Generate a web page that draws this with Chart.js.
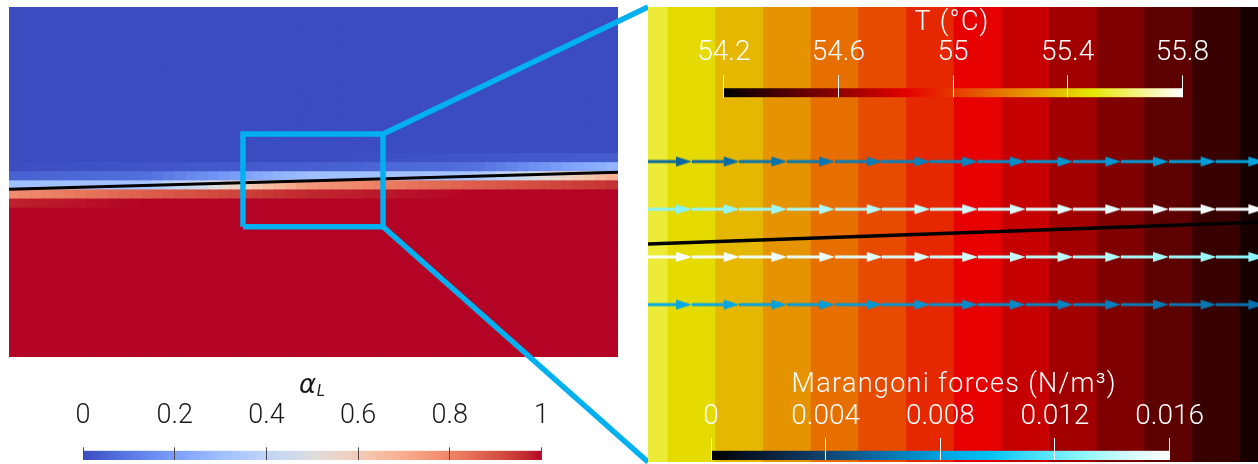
<!DOCTYPE html>
<html>
<head>
<meta charset="utf-8">
<script src="https://cdn.jsdelivr.net/npm/chart.js@4.4.1/dist/chart.umd.min.js"></script>
<style>
  html, body { margin: 0; padding: 0; background: #fff; overflow: hidden; }
  #fig { position: relative; width: 1258px; height: 464px; }
  #fig canvas { position: absolute; }
</style>
</head>
<body>
<div id="fig">
  <canvas id="alphaField" width="609" height="350" style="left:9px;top:7px"></canvas>
  <canvas id="links" width="1258" height="464" style="left:0px;top:0px"></canvas>
  <canvas id="zoomField" width="610" height="455" style="left:648px;top:7px"></canvas>
  <canvas id="tempBar" width="610" height="110" style="left:648px;top:0px"></canvas>
  <canvas id="forceBar" width="610" height="104" style="left:648px;top:360px"></canvas>
  <canvas id="alphaBar" width="630" height="104" style="left:0px;top:360px"></canvas>
</div>
<script>
// ---------------- data ----------------
// Liquid fraction field (coarse view): cell grid, interface and zoom window
const alphaColumns = 55;                 // cells across the view
const alphaRowRange = [-19, 21];         // row indices covering the view
const interfaceX = [0, 55];              // interface end points (cell units)
const interfaceY = [0.08, 1.94];
// liquid fraction across the interface, by signed distance (rows) below it
const alphaProfileOffset = [-2.5, -2, -1.5, -1, -0.5, 0, 0.5, 1, 1.5, 2];
const alphaProfileValue  = [0, 0.02, 0.04, 0.08, 0.30, 0.32, 0.76, 0.88, 0.97, 1];
const zoomBoxX = [21.13, 33.78];
const zoomBoxY = [-4.04, 6.14];

// Zoomed window: temperature per cell column, interface, Marangoni forces
const tempColumnStart = -1;
const temperature = [55.55, 55.45, 55.35, 55.25, 55.15, 55.05, 54.95, 54.84, 54.75, 54.65, 54.55, 54.46, 54.36, 54.27];
const zoomInterfaceX = [-1, 13];
const zoomInterfaceY = [-0.25, 0.25];
const arrowRows = [1.5, 0.5, -0.5, -1.5];
const forceRow1 = [0.0056, 0.0058, 0.0061, 0.0063, 0.0065, 0.0067, 0.0069, 0.0072, 0.0074, 0.0076, 0.0078, 0.0079, 0.0081];
const forceRow2 = [0.0127, 0.0130, 0.0133, 0.0136, 0.0139, 0.0142, 0.0145, 0.0147, 0.0150, 0.0152, 0.0154, 0.0156, 0.0158];
const forceRow3 = [0.0159, 0.0157, 0.0155, 0.0153, 0.0151, 0.0149, 0.0146, 0.0143, 0.0141, 0.0138, 0.0135, 0.0132, 0.0129];
const forceRow4 = [0.0084, 0.0082, 0.0080, 0.0078, 0.0076, 0.0074, 0.0072, 0.0070, 0.0068, 0.0066, 0.0064, 0.0062, 0.0060];

// Colour bar ticks
const alphaTicks = [0, 0.2, 0.4, 0.6, 0.8, 1];
const alphaTickLabels = ['0', '0.2', '0.4', '0.6', '0.8', '1'];
const tempTicks = [54.2, 54.6, 55, 55.4, 55.8];
const tempTickLabels = ['54.2', '54.6', '55', '55.4', '55.8'];
const forceTicks = [0, 0.004, 0.008, 0.012, 0.016];
const forceTickLabels = ['0', '0.004', '0.008', '0.012', '0.016'];

// ---------------- colour maps ----------------
const coolWarm = [
  [59,76,192],[68,90,204],[77,104,215],[87,117,225],[98,130,234],[108,142,241],[119,154,247],[130,165,251],
  [141,176,254],[152,185,255],[163,194,255],[173,201,253],[184,208,249],[192,212,245],[201,216,239],[209,218,232],
  [221,221,221],[229,216,209],[236,211,197],[241,204,185],[245,196,173],[247,187,160],[247,177,148],[247,166,135],
  [244,154,123],[241,141,111],[236,127,99],[229,112,88],[222,96,77],[213,80,66],[203,62,56],[192,40,47],[180,4,38]
].map((c, i, a) => [i / (a.length - 1), c[0], c[1], c[2]]);
const blackBody = [[0, 0, 0, 0], [0.4, 230, 0, 0], [0.8, 230, 230, 0], [1, 255, 255, 255]];
const blueWhite = [[0, 0, 0, 0], [0.1, 8, 24, 48], [0.25, 16, 68, 112], [0.37, 10, 110, 168], [0.5, 0, 162, 222],
  [0.6, 0, 192, 245], [0.72, 80, 228, 255], [0.82, 150, 248, 250], [0.92, 215, 252, 252], [1, 255, 255, 255]];

function mapColor(stops, t) {
  t = Math.max(0, Math.min(1, t));
  for (let i = 1; i < stops.length; i++) {
    if (t <= stops[i][0] || i === stops.length - 1) {
      const a = stops[i - 1], b = stops[i];
      const f = (t - a[0]) / ((b[0] - a[0]) || 1);
      const ch = k => Math.round(a[k] + (b[k] - a[k]) * f);
      return `rgb(${ch(1)},${ch(2)},${ch(3)})`;
    }
  }
}
function interp(xs, ys, v) {
  if (v <= xs[0]) return ys[0];
  if (v >= xs[xs.length - 1]) return ys[ys.length - 1];
  for (let i = 1; i < xs.length; i++) {
    if (v <= xs[i]) return ys[i - 1] + (ys[i] - ys[i - 1]) * (v - xs[i - 1]) / (xs[i] - xs[i - 1]);
  }
}
function gradientFor(stops) {
  return (c) => {
    const area = c.chart.chartArea;
    if (!area) return 'transparent';
    const g = c.chart.ctx.createLinearGradient(area.left, 0, area.right, 0);
    stops.forEach(s => g.addColorStop(s[0], `rgb(${s[1]},${s[2]},${s[3]})`));
    return g;
  };
}

const FONT = "'Roboto', 'Open Sans', sans-serif";
Chart.defaults.font.family = FONT;
const staticOpts = { responsive: false, animation: false, events: [], plugins: { legend: { display: false }, tooltip: { enabled: false } } };

// ---------------- liquid fraction field ----------------
const colLabels = Array.from({ length: alphaColumns }, (_, c) => String(c));
const interfaceAt = x => interfaceY[0] + (interfaceY[1] - interfaceY[0]) * (x - interfaceX[0]) / (interfaceX[1] - interfaceX[0]);
const rowSets = [];
for (let j = alphaRowRange[0]; j < alphaRowRange[1]; j++) {
  rowSets.push({
    type: 'bar', xAxisID: 'x', yAxisID: 'y', order: 3, grouped: false,
    data: colLabels.map(() => [j, j + 1]),
    backgroundColor: colLabels.map((_, c) => {
      const d = interfaceAt(c + 0.5) - (j + 0.5);
      return mapColor(coolWarm, interp(alphaProfileOffset, alphaProfileValue, d));
    }),
    borderWidth: 0, barPercentage: 1, categoryPercentage: 1, inflateAmount: 0.5
  });
}
const fieldChart = new Chart(document.getElementById('alphaField'), {
  type: 'bar',
  data: {
    labels: colLabels,
    datasets: [
      ...rowSets,
      { type: 'line', xAxisID: 'xl', yAxisID: 'y', order: 1,
        data: interfaceX.map((x, i) => ({ x, y: interfaceY[i] })),
        borderColor: '#000', borderWidth: 3, pointRadius: 0 },
      { type: 'line', xAxisID: 'xl', yAxisID: 'y', order: 0, clip: false,
        data: [
          { x: zoomBoxX[0], y: zoomBoxY[0] }, { x: zoomBoxX[0], y: zoomBoxY[1] },
          { x: zoomBoxX[1], y: zoomBoxY[1] }, { x: zoomBoxX[1], y: zoomBoxY[0] },
          { x: zoomBoxX[0], y: zoomBoxY[0] }
        ],
        borderColor: '#00B0F0', borderWidth: 5.5, borderJoinStyle: 'miter', pointRadius: 0 }
    ]
  },
  options: {
    ...staticOpts,
    layout: { padding: 0, autoPadding: false },
    scales: {
      x: { type: 'category', display: false, offset: true },
      xl: { type: 'linear', display: false, offset: false, min: interfaceX[0], max: interfaceX[1] },
      y: { type: 'linear', display: false, min: -18.35, max: 20.1 }
    }
  }
});

// ---------------- zoomed temperature field with force vectors ----------------
const arrowCache = {};
function arrowImage(color, len) {
  const key = color + '|' + len.toFixed(1);
  if (arrowCache[key]) return arrowCache[key];
  const w = Math.round(len), h = 12, cy = h / 2;
  const headL = 16, headH = 5, shaft = 1.6;
  const c = document.createElement('canvas');
  c.width = w; c.height = h;
  const g = c.getContext('2d');
  g.fillStyle = color;
  g.beginPath();
  g.moveTo(0, cy - shaft); g.lineTo(w - headL, cy - shaft); g.lineTo(w - headL, cy - headH);
  g.lineTo(w, cy); g.lineTo(w - headL, cy + headH); g.lineTo(w - headL, cy + shaft);
  g.lineTo(0, cy + shaft); g.closePath(); g.fill();
  arrowCache[key] = c;
  return c;
}
const forceMax = forceTicks[forceTicks.length - 1];
function arrowSet(values, row) {
  return {
    type: 'line', showLine: false, order: 0,
    data: values.map((f, i) => ({ x: i, y: row, f })),
    pointRadius: 10,
    pointStyle: (ctx) => {
      if (!ctx.raw) return 'circle';
      const xs = ctx.chart.scales.x;
      const len = Math.abs(xs.getPixelForValue(1) - xs.getPixelForValue(0));
      return arrowImage(mapColor(blueWhite, ctx.raw.f / forceMax), len);
    }
  };
}
const tMin = tempTicks[0], tMax = tempTicks[tempTicks.length - 1];
const zoomChart = new Chart(document.getElementById('zoomField'), {
  type: 'bar',
  data: {
    datasets: [
      { type: 'bar', order: 3,
        data: temperature.map((t, i) => ({ x: tempColumnStart + i + 0.5, y: [-10, 10] })),
        backgroundColor: temperature.map(t => mapColor(blackBody, (t - tMin) / (tMax - tMin))),
        borderWidth: 0, barPercentage: 1, categoryPercentage: 1, inflateAmount: 0.5 },
      { type: 'line', order: 1,
        data: zoomInterfaceX.map((x, i) => ({ x, y: zoomInterfaceY[i] })),
        borderColor: '#000', borderWidth: 3.5, pointRadius: 0 },
      arrowSet(forceRow1, arrowRows[0]),
      arrowSet(forceRow2, arrowRows[1]),
      arrowSet(forceRow3, arrowRows[2]),
      arrowSet(forceRow4, arrowRows[3])
    ]
  },
  options: {
    ...staticOpts,
    layout: { padding: 0, autoPadding: false },
    scales: {
      x: { type: 'linear', display: false, offset: false, min: -0.42, max: 12.37, ticks: { stepSize: 1, includeBounds: false } },
      y: { type: 'linear', display: false, min: -4.8, max: 4.74 }
    }
  }
});

// ---------------- colour bars ----------------
// Bar title drawn above the tick labels (allows letter spacing and subscripts)
const barTitle = {
  id: 'barTitle',
  afterDraw(chart, args, opts) {
    if (!opts || !opts.parts) return;
    const { ctx, chartArea } = chart;
    const cx = (chartArea.left + chartArea.right) / 2 + (opts.dx || 0);
    ctx.save();
    ctx.fillStyle = opts.color;
    ctx.textBaseline = 'alphabetic';
    if (opts.parts.length === 1) {
      const p = opts.parts[0];
      ctx.font = p.font;
      ctx.letterSpacing = (p.spacing || 0) + 'px';
      ctx.textAlign = 'center';
      ctx.fillText(p.text, cx, p.y);
    } else {
      const [a, b] = opts.parts;
      ctx.font = a.font; ctx.textAlign = 'right'; ctx.fillText(a.text, cx, a.y);
      ctx.font = b.font; ctx.textAlign = 'left'; ctx.fillText(b.text, cx + 0.5, b.y);
    }
    ctx.restore();
  }
};

function colorBar(id, cfg) {
  return new Chart(document.getElementById(id), {
    type: 'bar',
    data: {
      labels: [''],
      datasets: [{
        data: [[cfg.ticks[0], cfg.ticks[cfg.ticks.length - 1]]],
        backgroundColor: gradientFor(cfg.stops),
        borderWidth: 0, barPercentage: 1, categoryPercentage: 1
      }]
    },
    options: {
      ...staticOpts,
      indexAxis: 'y',
      layout: { padding: cfg.padding, autoPadding: false },
      plugins: { ...staticOpts.plugins, barTitle: cfg.title },
      scales: {
        y: { display: false },
        x: {
          type: 'linear', position: 'top',
          min: cfg.ticks[0], max: cfg.ticks[cfg.ticks.length - 1],
          afterBuildTicks: s => { s.ticks = cfg.ticks.map(v => ({ value: v })); },
          afterFit: s => { s.height = cfg.axisHeight; },
          border: { display: false },
          grid: { drawOnChartArea: true, drawTicks: true, tickLength: cfg.tickLength, color: cfg.tickColor, lineWidth: 1, z: 1 },
          ticks: {
            autoSkip: false, maxRotation: 0, padding: cfg.labelPad, color: cfg.textColor,
            font: { family: FONT, size: cfg.labelSize, weight: 300, lineHeight: 1 },
            callback: (v, i) => cfg.labels[i]
          }
        }
      }
    },
    plugins: [barTitle]
  });
}

colorBar('tempBar', {
  ticks: tempTicks, labels: tempTickLabels, stops: blackBody,
  padding: { left: 75.8, right: 75.7, top: 0, bottom: 12.7 },
  axisHeight: 88.3, tickLength: 13, tickColor: '#ffffff', textColor: '#ffffff',
  labelSize: 28, labelPad: 8,
  title: { color: '#ffffff', dx: -1, parts: [{ text: 'T (°C)', font: `300 27px ${FONT}`, spacing: 1.3, y: 30 }] }
});

colorBar('forceBar', {
  ticks: forceTicks, labels: forceTickLabels, stops: blueWhite,
  padding: { left: 63, right: 88.4, top: 0, bottom: 4 },
  axisHeight: 90.7, tickLength: 12.7, tickColor: '#ffffff', textColor: '#ffffff',
  labelSize: 28, labelPad: 7.3,
  title: { color: '#ffffff', dx: 14, parts: [{ text: 'Marangoni forces (N/m³)', font: `300 27px ${FONT}`, spacing: 1.3, y: 31.7 }] }
});

colorBar('alphaBar', {
  ticks: alphaTicks, labels: alphaTickLabels, stops: coolWarm,
  padding: { left: 83, right: 88.5, top: 0, bottom: 4 },
  axisHeight: 90.7, tickLength: 3.4, tickColor: '#4a4a4a', textColor: '#1a1a1a',
  labelSize: 27, labelPad: 17.4,
  title: { color: '#1a1a1a', dx: 4, parts: [
    { text: 'α', font: `oblique 400 26px 'DejaVu Sans', sans-serif`, y: 33 },
    { text: 'L', font: `italic 400 16px ${FONT}`, y: 35.5 }
  ] }
});

// ---------------- connectors from the zoom window to the enlarged view ----------------
const fieldEl = document.getElementById('alphaField');
const zoomEl = document.getElementById('zoomField');
const linksEl = document.getElementById('links');
const boxRight = fieldEl.offsetLeft + fieldChart.scales.xl.getPixelForValue(zoomBoxX[1]);
const boxTop = fieldEl.offsetTop + fieldChart.scales.y.getPixelForValue(zoomBoxY[1]);
const boxBottom = fieldEl.offsetTop + fieldChart.scales.y.getPixelForValue(zoomBoxY[0]);
const za = zoomChart.chartArea;
const panelLeft = zoomEl.offsetLeft + za.left;
const panelTop = zoomEl.offsetTop + za.top;
const panelBottom = zoomEl.offsetTop + za.bottom;

new Chart(linksEl, {
  type: 'line',
  data: {
    datasets: [
      { data: [{ x: boxRight, y: boxTop }, { x: panelLeft, y: panelTop }] },
      { data: [{ x: boxRight, y: boxBottom }, { x: panelLeft, y: panelBottom }] }
    ]
  },
  options: {
    ...staticOpts,
    layout: { padding: 0, autoPadding: false },
    elements: { line: { borderColor: '#00B0F0', borderWidth: 5.5, borderCapStyle: 'butt' }, point: { radius: 0 } },
    scales: {
      x: { type: 'linear', display: false, min: 0, max: linksEl.width },
      y: { type: 'linear', display: false, min: 0, max: linksEl.height, reverse: true }
    }
  }
});
</script>
</body>
</html>
